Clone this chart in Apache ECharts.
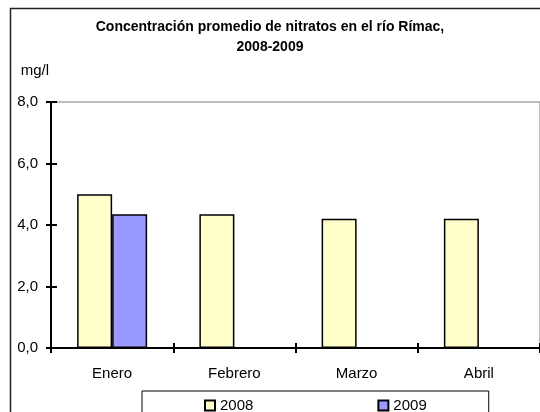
<!DOCTYPE html>
<html>
<head>
<meta charset="utf-8">
<script src="https://cdn.jsdelivr.net/npm/echarts@6/dist/echarts.min.js"></script>
<style>
  html, body { margin: 0; padding: 0; background: #fff; }
  #chart { width: 540px; height: 412px; }
</style>
</head>
<body>
<div id="chart"></div>
<script>
// datos
var meses = ['Enero', 'Febrero', 'Marzo', 'Abril'];
var serie2008 = [5.0, 4.35, 4.2, 4.2];
var serie2009 = [4.35, null, null, null];
var yMin = 0, yMax = 8, yPaso = 2;

var fuente = 'Liberation Sans, Arial, sans-serif';
var fmt = function (v) { return v.toFixed(1).replace('.', ','); };

var chart = echarts.init(document.getElementById('chart'));

var options = {
  animation: false,
  // título
  title: {
    text: 'Concentración promedio de nitratos en el río Rímac,\n2008-2009',
    left: 'center',
    top: 12,
    textStyle: {
      fontFamily: fuente,
      fontSize: 14,
      fontWeight: 'bold',
      color: '#000',
      lineHeight: 20
    }
  },
  // marco exterior
  graphic: [{
    type: 'rect',
    shape: { x: 10.5, y: 8.5, width: 600, height: 500 },
    style: { fill: 'none', stroke: '#222', lineWidth: 1.5 },
    z: -1
  }],
  legend: {
    left: 142,
    top: 391,
    padding: [7, 62, 30, 62],
    itemGap: 124,
    itemWidth: 10,
    itemHeight: 10,
    icon: 'rect',
    borderColor: '#000',
    borderWidth: 1,
    textStyle: { fontFamily: fuente, fontSize: 15, color: '#000' },
    data: ['2008', '2009']
  },
  grid: {
    left: 51,
    top: 102,
    bottom: 64,
    right: -6,
    show: true,
    borderColor: '#808080',
    borderWidth: 1
  },
  xAxis: [{
    type: 'category',
    data: meses,
    axisLine: { lineStyle: { color: '#000', width: 2 } },
    axisTick: { show: true, length: 5, lineStyle: { color: '#000', width: 2 } },
    axisLabel: { fontFamily: fuente, fontSize: 15, color: '#000', margin: 18 },
    splitLine: { show: false }
  }, {
    type: 'category',
    data: meses,
    position: 'bottom',
    axisLine: { show: false },
    axisTick: { show: true, inside: true, length: 5, lineStyle: { color: '#000', width: 2 } },
    axisLabel: { show: false },
    splitLine: { show: false }
  }],
  yAxis: [{
    type: 'value',
    min: yMin,
    max: yMax,
    interval: yPaso,
    name: 'mg/l',
    nameLocation: 'end',
    nameGap: 24,
    nameTextStyle: { fontFamily: fuente, fontSize: 15, color: '#000', align: 'right', padding: [0, 2, 0, 0] },
    axisLine: { show: true, lineStyle: { color: '#000', width: 2 } },
    axisTick: { show: true, length: 5, lineStyle: { color: '#000', width: 2 } },
    axisLabel: { fontFamily: fuente, fontSize: 15, color: '#000', margin: 13, formatter: fmt },
    splitLine: { show: false }
  }, {
    type: 'value',
    min: yMin,
    max: yMax,
    interval: yPaso,
    position: 'left',
    axisLine: { show: false },
    axisTick: { show: true, inside: true, length: 6, lineStyle: { color: '#000', width: 2 } },
    axisLabel: { show: false },
    splitLine: { show: false }
  }],
  series: [{
    name: '2008',
    type: 'bar',
    barWidth: 35,
    barGap: '0%',
    itemStyle: { color: '#FFFFCC', borderColor: '#000', borderWidth: 1.5 },
    data: serie2008
  }, {
    name: '2009',
    type: 'bar',
    barWidth: 35,
    barGap: '0%',
    itemStyle: { color: '#9999FF', borderColor: '#000', borderWidth: 1.5 },
    data: serie2009
  }]
};

chart.setOption(options);
</script>
</body>
</html>
